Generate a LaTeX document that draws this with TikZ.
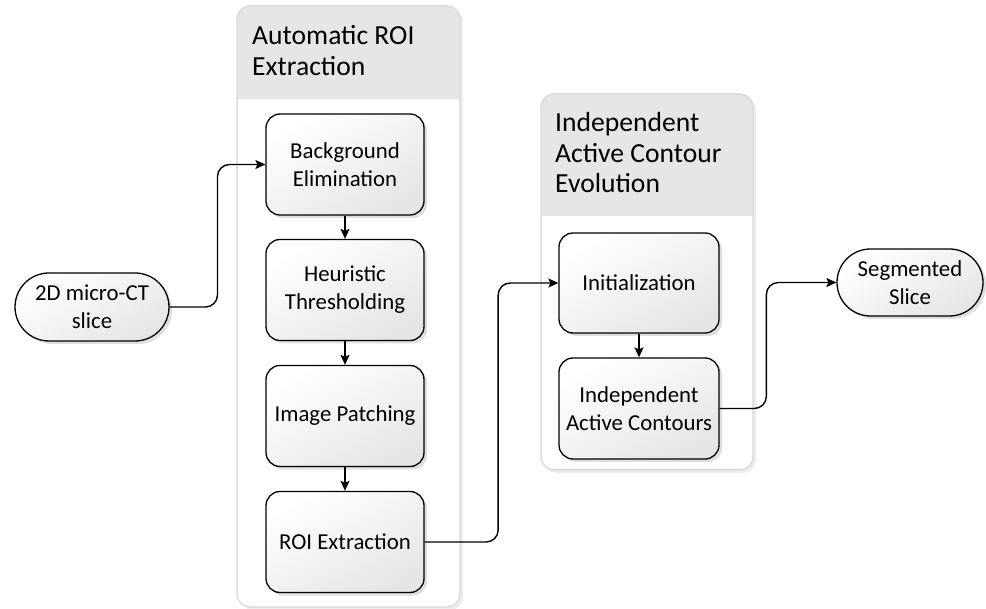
\documentclass[tikz,border=0pt]{standalone}
\usepackage{fontspec}
\setmainfont{Carlito}
\usetikzlibrary{shapes.misc,shadows,arrows.meta,calc}
\definecolor{hdrgray}{HTML}{E6E6E6}
\definecolor{frgray}{HTML}{DCDCDC}
\begin{document}
\begin{tikzpicture}[x=1pt,y=-1pt,
  procbox/.style={draw=black, line width=1.3pt, rounded corners=14pt,
    minimum width=158pt, minimum height=101pt, align=center, inner sep=2pt,
    top color=white, bottom color=black!10, shading angle=30,
    drop shadow={shadow xshift=3pt, shadow yshift=-3pt, fill=black!25, opacity=0.5},
    font=\fontsize{22.8}{28}\selectfont},
  termbox/.style={procbox, rounded rectangle, rounded corners=0pt, minimum height=68pt},
  conn/.style={draw=black, line width=1.4pt, rounded corners=12pt,
    -{Stealth[length=10pt,width=9pt,inset=2pt]}},
  hdrtext/.style={anchor=north west, align=left, inner sep=0pt,
    font=\fontsize{27.6}{30.5}\selectfont},
  container/.style={fill=white, draw=frgray, line width=1.5pt, rounded corners=13pt}
]
\useasboundingbox (0,0) rectangle (986,609);

% containers
\fill[black!7, rounded corners=13pt] (240,9) rectangle (463,610);
\fill[container, draw=none] (237,6) rectangle (460,607);
\begin{scope}
  \clip[rounded corners=13pt] (237,6) rectangle (460,607);
  \fill[hdrgray] (237,6) rectangle (460,99);
\end{scope}
\draw[container, fill=none] (237,6) rectangle (460,607);
\node[hdrtext] (hdrA) at (252,25.5) {Automatic ROI\\Extraction};

\fill[black!7, rounded corners=13pt] (544,97) rectangle (756,473);
\fill[container, draw=none] (541,94) rectangle (753,470);
\begin{scope}
  \clip[rounded corners=13pt] (541,94) rectangle (753,470);
  \fill[hdrgray] (541,94) rectangle (753,216);
\end{scope}
\draw[container, fill=none] (541,94) rectangle (753,470);
\node[hdrtext] (hdrB) at (555,112.5) {Independent\\Active Contour\\Evolution};

% nodes
\node[termbox] (src) at (92,307) {2D micro-CT\\slice};
\node[procbox] (b1) at (345,164.5) {Background\\Elimination};
\node[procbox] (b2) at (345,290) {Heuristic\\Thresholding};
\node[procbox] (b3) at (345,416) {Image Patching};
\node[procbox] (b4) at (345,542) {ROI Extraction};
\node[procbox, minimum width=160pt, minimum height=100pt] (init) at (639,283) {Initialization};
\node[procbox, minimum width=160pt] (iac) at (639,408.5) {Independent\\Active Contours};
\node[termbox, minimum width=150pt, minimum height=67pt] (seg) at (910,282.5) {Segmented\\Slice};

% connectors
\coordinate (m1) at ($(src.east)!0.5!(b1.west)$);
\coordinate (m2) at ($(b4.east)!0.55!(init.west)$);
\coordinate (m3) at ($(iac.east)!0.4!(seg.west)$);
\draw[conn] (src.east) -| (m1) |- (b1.west);
\draw[conn] (b4.east) -| (m2) |- (init.west);
\draw[conn] (iac.east) -| (m3) |- (seg.west);
\draw[conn] (b1) -- (b2);
\draw[conn] (b2) -- (b3);
\draw[conn] (b3) -- (b4);
\draw[conn] (init) -- (iac);
\end{tikzpicture}
\end{document}
